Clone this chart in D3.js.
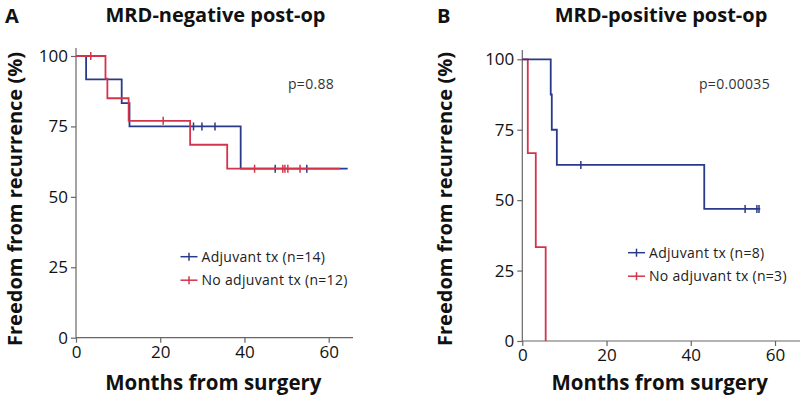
<!DOCTYPE html>
<html><head><meta charset="utf-8">
<script src="https://cdn.jsdelivr.net/npm/d3@7"></script>
<style>
html,body{margin:0;padding:0;background:#fff;}
svg{display:block;font-family:"Open Sans",Lato,sans-serif;}
</style></head>
<body><svg id="chart" width="800" height="401"></svg>
<script>
// ---- data ----
const monthTicks = [0, 20, 40, 60];
const pctTicks = [0, 25, 50, 75, 100];
const legendLabelsA = ["Adjuvant tx (n=14)", "No adjuvant tx (n=12)"];
const legendLabelsB = ["Adjuvant tx (n=8)", "No adjuvant tx (n=3)"];

// Panel A: MRD-negative
const aAdjTimes = [0, 2.4, 10.85, 12.7, 39.1, 64.5];
const aAdjSurv  = [100, 91.7, 83.3, 75, 60, 60];
const aAdjCensor = [27.9, 29.9, 33.0, 47.3, 54.8];
const aNoTimes = [0, 7.0, 7.45, 12.5, 27.1, 35.9, 62.7];
const aNoSurv  = [100, 92, 85, 77, 68.5, 60, 60];
const aNoCensor = [3.5, 20.7, 42.4, 49.1, 49.6, 50.3, 53.2];

// Panel B: MRD-positive
const bAdjTimes = [0, 6.75, 7.0, 8.2, 43.2, 56.5];
const bAdjSurv  = [100, 87.5, 75, 62.5, 46.9, 46.9];
const bAdjCensor = [13.9, 52.9, 55.7, 56.2];
const bNoTimes = [0, 1.3, 3.2, 5.55];
const bNoSurv  = [100, 66.7, 33.3, 0];
const bNoCensor = [];

const BLUE = "#2a3a8a", RED = "#d3344c", AXIS = "#666";
const FONT = "'Open Sans', Lato, sans-serif";

const svg = d3.select("#chart");

function stepValue(times, surv, t) {
  let v = surv[0];
  for (let i = 0; i < times.length; i++) if (times[i] <= t) v = surv[i];
  return v;
}

function panel(cfg) {
  const x = d3.scaleLinear().domain([0, 60]).range([cfg.x0, cfg.x60]);
  const y = d3.scaleLinear().domain([0, 100]).range([cfg.y0, cfg.y100]);
  const g = svg.append("g");

  // axes
  const ax = g.append("g").attr("transform", `translate(0,${cfg.y0})`)
    .call(d3.axisBottom(x).tickValues(monthTicks).tickSize(5).tickPadding(3));
  ax.select(".domain").attr("d", `M${cfg.x0},0H${cfg.xEnd}`);
  const ay = g.append("g").attr("transform", `translate(${cfg.x0},0)`)
    .call(d3.axisLeft(y).tickValues(pctTicks).tickSize(5).tickPadding(3));
  ay.select(".domain").attr("d", `M0,${cfg.yTop}V${cfg.y0}`);
  [ax, ay].forEach(a => {
    a.selectAll("path,line").attr("stroke", AXIS).attr("stroke-width", 1.2);
    a.selectAll("text").attr("fill", "#111").attr("font-size", 17)
      .attr("font-family", FONT);
  });

  const line = d3.line().x(d => x(d[0])).y(d => y(d[1])).curve(d3.curveStepAfter);
  cfg.series.forEach(s => {
    const pts = s.times.map((t, i) => [t, s.surv[i]]);
    g.append("path").attr("d", line(pts)).attr("fill", "none")
      .attr("stroke", s.color).attr("stroke-width", 1.8);
    g.selectAll(null).data(s.censor).enter().append("line")
      .attr("x1", d => x(d)).attr("x2", d => x(d))
      .attr("y1", d => y(stepValue(s.times, s.surv, d)) - 4)
      .attr("y2", d => y(stepValue(s.times, s.surv, d)) + 4)
      .attr("stroke", s.color).attr("stroke-width", 1.5);
  });

  // legend
  cfg.legend.forEach((l, i) => {
    const ly = cfg.legY + i * 23.5;
    g.append("line").attr("x1", cfg.legX).attr("x2", cfg.legX + 17).attr("y1", ly).attr("y2", ly)
      .attr("stroke", l.color).attr("stroke-width", 1.5);
    g.append("line").attr("x1", cfg.legX + 8.5).attr("x2", cfg.legX + 8.5).attr("y1", ly - 4).attr("y2", ly + 4)
      .attr("stroke", l.color).attr("stroke-width", 1.5);
    g.append("text").attr("x", cfg.legX + 21).attr("y", ly).attr("dy", "0.35em")
      .attr("font-size", 14).attr("fill", "#222").attr("letter-spacing", 0.3).text(l.label);
  });

  // p value
  g.append("text").attr("x", cfg.pX).attr("y", 84).attr("dy", "0.35em")
    .attr("font-size", 14).attr("fill", "#333").attr("letter-spacing", 0.3).text(cfg.p);

  // titles
  g.append("text").attr("x", cfg.letterX).attr("y", 23).attr("font-size", 20)
    .attr("font-weight", "bold").attr("fill", "#111").text(cfg.letter);
  g.append("text").attr("x", cfg.titleX).attr("y", 22).attr("font-size", 20)
    .attr("font-weight", "bold").attr("fill", "#111").attr("text-anchor", "middle").text(cfg.title);

  // axis labels
  g.append("text").attr("x", (cfg.x0 + cfg.x60) / 2 + 11).attr("y", 390)
    .attr("text-anchor", "middle").attr("font-size", 20.5).attr("font-weight", "bold")
    .attr("fill", "#111").text("Months from surgery");
  g.append("text").attr("transform", `translate(${cfg.yLabX},199) rotate(-90)`)
    .attr("text-anchor", "middle").attr("dy", "0.35em").attr("font-size", 20).attr("font-weight", "bold")
    .attr("fill", "#111").text("Freedom from recurrence (%)");
}

panel({
  x0: 76, x60: 328.7, xEnd: 353, y0: 337.7, y100: 56, yTop: 48,
  series: [
    {times: aAdjTimes, surv: aAdjSurv, censor: aAdjCensor, color: BLUE},
    {times: aNoTimes, surv: aNoSurv, censor: aNoCensor, color: RED}
  ],
  legend: [{label: legendLabelsA[0], color: BLUE}, {label: legendLabelsA[1], color: RED}],
  legX: 180.5, legY: 256.7, p: "p=0.88", pX: 288,
  letter: "A", letterX: 5, title: "MRD-negative post-op", titleX: 215.5, yLabX: 15
});

panel({
  x0: 522.3, x60: 775, xEnd: 800, y0: 341, y100: 59.3, yTop: 50,
  series: [
    {times: bNoTimes, surv: bNoSurv, censor: bNoCensor, color: RED},
    {times: bAdjTimes, surv: bAdjSurv, censor: bAdjCensor, color: BLUE}
  ],
  legend: [{label: legendLabelsB[0], color: BLUE}, {label: legendLabelsB[1], color: RED}],
  legX: 628, legY: 252.7, p: "p=0.00035", pX: 699,
  letter: "B", letterX: 437, title: "MRD-positive post-op", titleX: 661, yLabX: 445
});
</script></body></html>
